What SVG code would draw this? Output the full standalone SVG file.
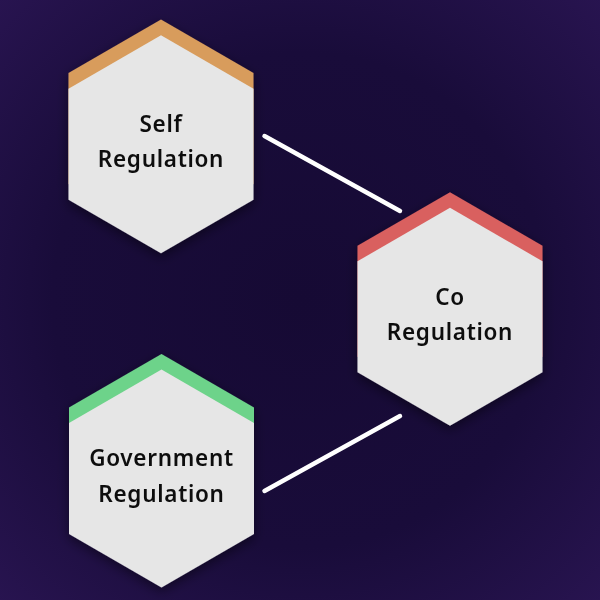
<svg xmlns="http://www.w3.org/2000/svg" width="600" height="600" viewBox="0 0 600 600">
  <defs>
    <radialGradient id="bg" cx="50%" cy="50%" r="75%">
      <stop offset="0" stop-color="#160a34"/>
      <stop offset="0.55" stop-color="#190c3a"/>
      <stop offset="1" stop-color="#2a1553"/>
    </radialGradient>
    <filter id="shadow" x="-30%" y="-30%" width="160%" height="160%">
      <feDropShadow dx="0" dy="4" stdDeviation="6" flood-color="#000" flood-opacity="0.45"/>
    </filter>
    <path id="hex" d="M0 0 L92.5 53.5 L92.5 164.5 L0 218 L-92.5 164.5 L-92.5 53.5 Z"/>
  </defs>
  <style>
    .face { fill: #e6e6e6; }
    .label { font-family: "Noto Sans", "DejaVu Sans", sans-serif; font-weight: 600; font-size: 22.5px; fill: #111111; text-anchor: middle; letter-spacing: 0.7px; }
    .conn { stroke: #ffffff; stroke-width: 4.5; stroke-linecap: round; fill: none; }
  </style>
  <rect x="0" y="0" width="600" height="600" fill="url(#bg)"/>

  <g id="connectors">
    <line class="conn" x1="264.5" y1="136" x2="400" y2="211"/>
    <line class="conn" x1="264.5" y1="491" x2="400" y2="416"/>
  </g>

  <g id="self-regulation" filter="url(#shadow)">
    <use href="#hex" x="161" y="19.5" fill="#d89c5c"/>
    <use href="#hex" x="161" y="35.2" class="face"/>
    <text class="label" x="161" y="131.5">Self</text>
    <text class="label" x="161" y="167">Regulation</text>
  </g>

  <g id="co-regulation" filter="url(#shadow)">
    <use href="#hex" x="450" y="192.3" fill="#d9605f"/>
    <use href="#hex" x="450" y="207.8" class="face"/>
    <text class="label" x="450" y="304.5">Co</text>
    <text class="label" x="450" y="340">Regulation</text>
  </g>

  <g id="government-regulation" filter="url(#shadow)">
    <use href="#hex" x="161.5" y="354" fill="#6dd38a"/>
    <use href="#hex" x="161.5" y="369.5" class="face"/>
    <text class="label" x="161.5" y="466">Government</text>
    <text class="label" x="161.5" y="501.5">Regulation</text>
  </g>
</svg>
